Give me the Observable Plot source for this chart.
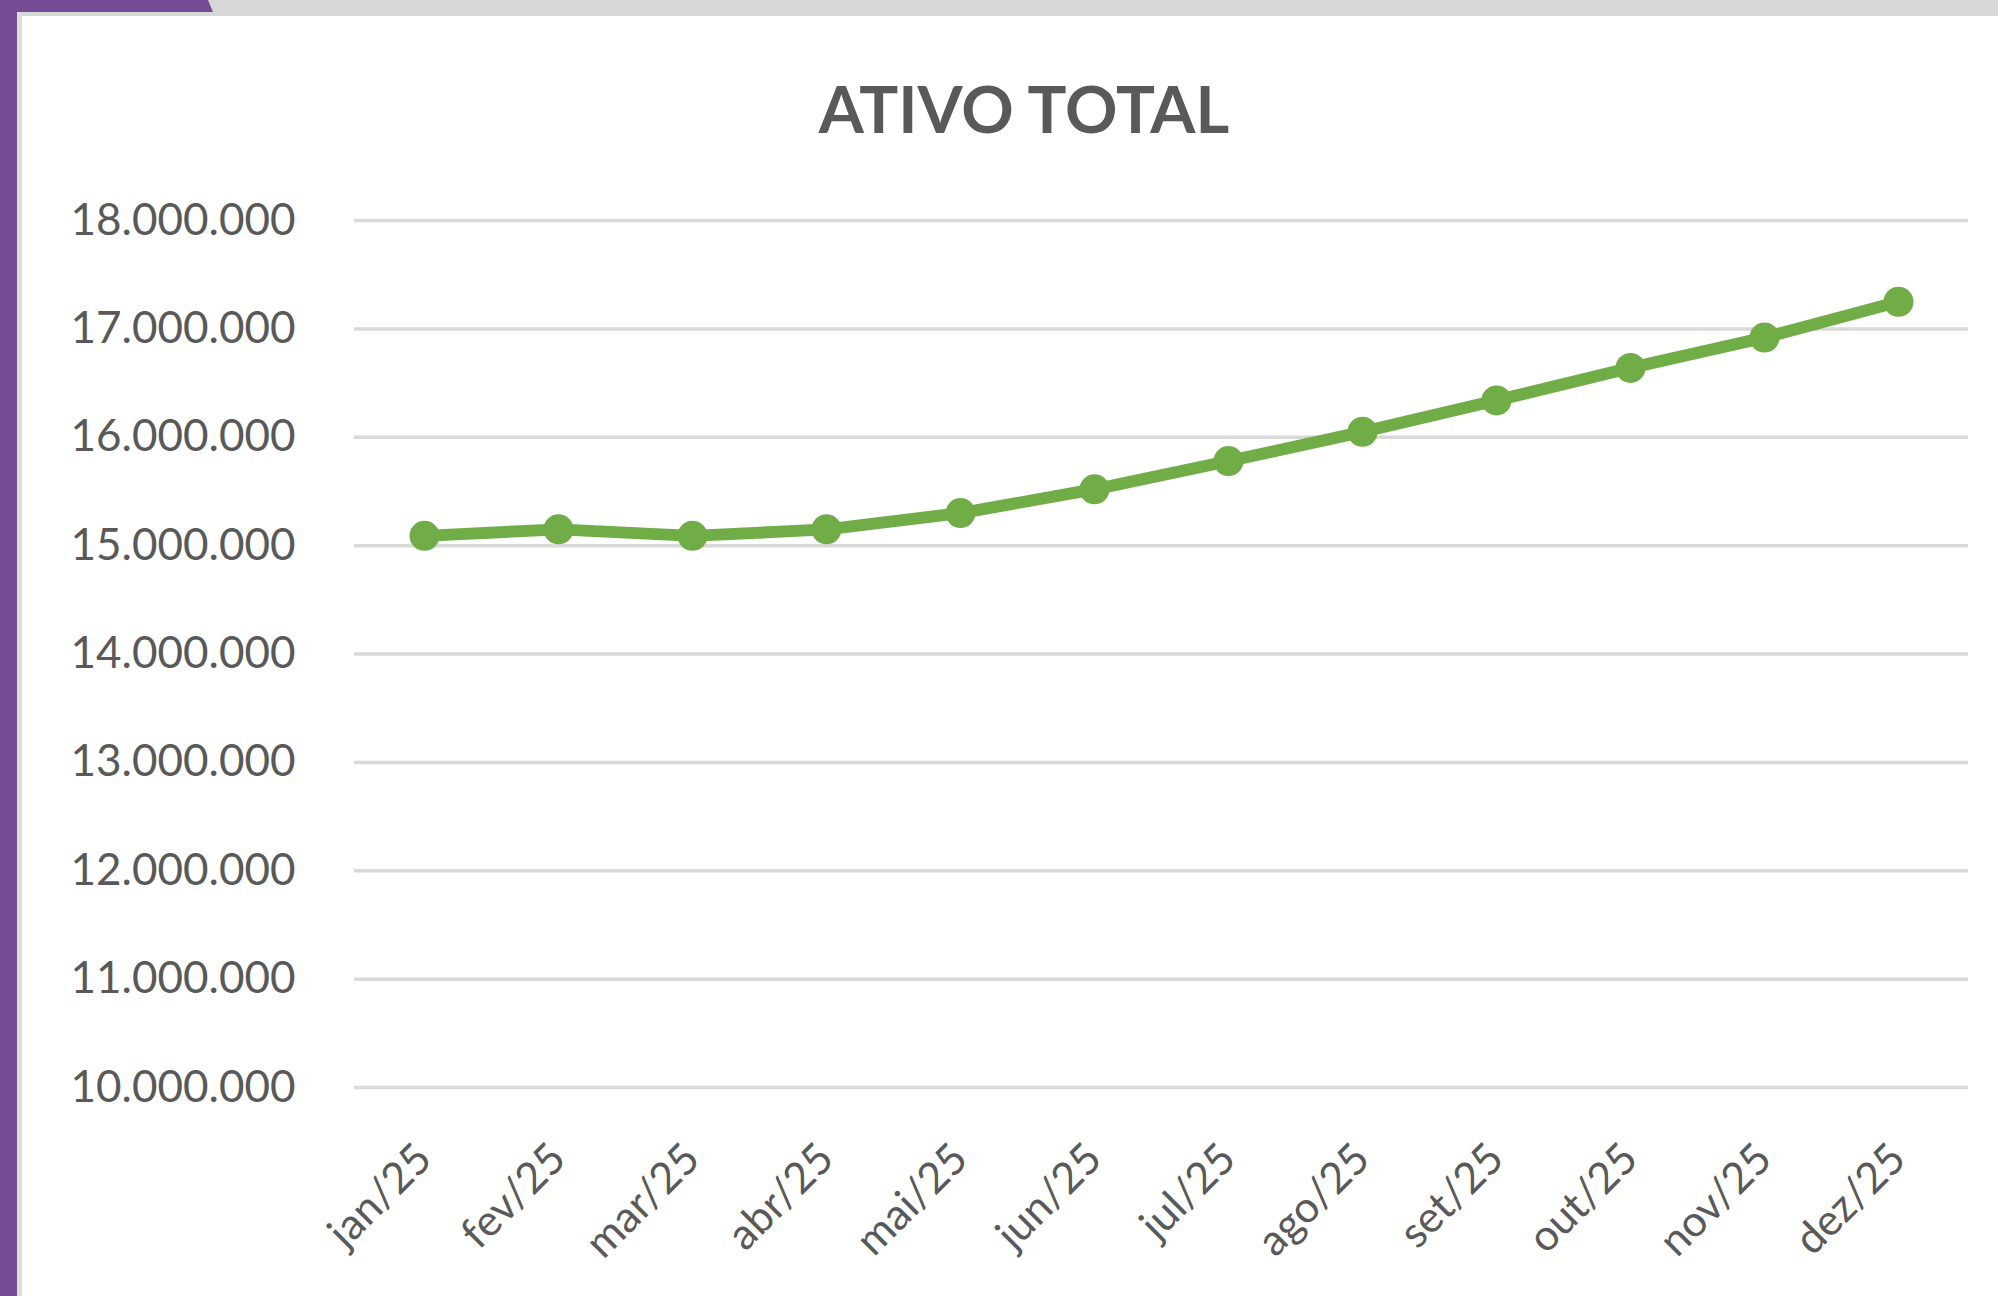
<!DOCTYPE html>
<html>
<head>
<meta charset="utf-8">
<script src="https://cdn.jsdelivr.net/npm/d3@7"></script>
<script src="https://cdn.jsdelivr.net/npm/@observablehq/plot@0.6"></script>
<style>
  html, body { margin: 0; padding: 0; background: #ffffff; }
  #page { position: relative; width: 1998px; height: 1296px; overflow: hidden; background: #ffffff; font-family: Lato, "Liberation Sans", sans-serif; }
  .deco { position: absolute; }
  #title { position: absolute; left: 1024px; top: 76px; transform: translateX(-50%); font-size: 65px; line-height: 65px; font-weight: 700; color: #595959; white-space: nowrap; }
  #chart { position: absolute; left: 22px; top: 160px; }
</style>
</head>
<body>
<div id="page">
  <div class="deco" style="left:0;top:0;width:1998px;height:16px;background:#d7d7d7;"></div>
  <div class="deco" style="left:17px;top:12px;width:5px;height:1284px;background:#dcdcdc;"></div>
  <div class="deco" style="left:0;top:0;width:17px;height:1296px;background:#744b95;"></div>
  <div class="deco" style="left:0;top:0;width:214px;height:12px;background:#744b95;clip-path:polygon(0 0, 208px 0, 213px 12px, 0 12px);"></div>
  <div id="title">ATIVO TOTAL</div>
  <div id="chart"></div>
</div>
<script>
const months = ["jan/25", "fev/25", "mar/25", "abr/25", "mai/25", "jun/25", "jul/25", "ago/25", "set/25", "out/25", "nov/25", "dez/25"];
const values = [15090000, 15150000, 15090000, 15150000, 15300000, 15520000, 15780000, 16050000, 16340000, 16640000, 16920000, 17250000];
const yTicks = [10000000, 11000000, 12000000, 13000000, 14000000, 15000000, 16000000, 17000000, 18000000];

const data = months.map((m, i) => ({month: m, value: values[i]}));
const fmt = d3.formatLocale({decimal: ",", thousands: ".", grouping: [3], currency: ["R$", ""]}).format(",d");

const chart = Plot.plot({
  width: 1976,
  height: 1136,
  marginLeft: 332,
  marginRight: 30,
  marginTop: 60,
  marginBottom: 209,
  style: {fontFamily: "Lato, 'Liberation Sans', sans-serif", color: "#595959", background: "transparent", overflow: "visible"},
  x: {type: "point", domain: months, padding: 0.5},
  y: {domain: [10000000, 18000000]},
  marks: [
    Plot.ruleY(yTicks, {stroke: "#d9d9d9", strokeWidth: 3.5}),
    Plot.axisY({ticks: yTicks, tickSize: 0, tickPadding: 59, tickFormat: fmt, fontSize: 44, fill: "#595959", label: null}),
    Plot.axisX({tickSize: 0, tickRotate: -45, tickPadding: 64, fontSize: 43, fill: "#595959", label: null}),
    Plot.line(data, {x: "month", y: "value", stroke: "#70AD47", strokeWidth: 12, strokeLinejoin: "round", strokeLinecap: "round"}),
    Plot.dot(data, {x: "month", y: "value", r: 15, fill: "#70AD47"})
  ]
});
document.getElementById("chart").appendChild(chart);
</script>
</body>
</html>
